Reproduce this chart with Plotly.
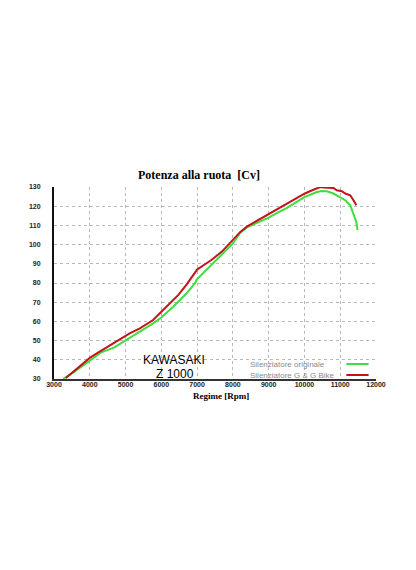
import plotly.graph_objects as go

# Data
rpm_orig = [3250, 3575, 4000, 4320, 4690, 5000, 5115, 5400, 5770, 6000, 6330, 6700, 6935,
            7000, 7400, 8000, 8200, 8400, 8520, 9000, 9240, 9500, 10000, 10155, 10345,
            10485, 10625, 10810, 11000, 11140, 11280, 11370, 11450, 11485]
cv_orig = [30, 33.8, 39.5, 43.9, 46.5, 50, 51.5, 54.6, 59, 62, 67.6, 74.5, 79.8,
           82, 89.3, 100.6, 106, 109, 110, 114, 116.5, 119, 124.7, 125.9, 127.4,
           127.9, 127.8, 126.6, 124.8, 123.1, 120.5, 116.2, 111.8, 107.5]

rpm_gg = [3330, 3575, 4000, 4230, 4510, 5000, 5115, 5400, 5770, 6000, 6235, 6470, 6700,
          6900, 7000, 7200, 7400, 7700, 8000, 8200, 8400, 8520, 9000, 9240, 9500, 9750,
          10000, 10150, 10345, 10440, 10530, 10810, 10905, 11045, 11140, 11280, 11370, 11450]
cv_gg = [30.5, 34.5, 41, 43.7, 47, 52.4, 53.8, 56.4, 60.7, 65, 69.4, 73.7, 79,
         84.5, 87, 89.5, 92, 96.5, 102.5, 106.5, 109.5, 110.8, 116, 118.2, 121, 124,
         126.5, 127.8, 129.2, 130, 129.7, 129.5, 128.3, 127.8, 126.6, 125.7, 123.1, 120.5]

x_ticks = [3000, 4000, 5000, 6000, 7000, 8000, 9000, 10000, 11000, 12000]
y_ticks = [30, 40, 50, 60, 70, 80, 90, 100, 110, 120, 130]

series_names = ["Silenziatore originale", "Silenziatore G & G Bike"]
GREEN = "#3dde3d"
RED = "#c3141c"

fig = go.Figure()
fig.add_trace(go.Scatter(x=rpm_orig, y=cv_orig, mode="lines", name=series_names[0],
                         line=dict(color=GREEN, width=2), showlegend=False))
fig.add_trace(go.Scatter(x=rpm_gg, y=cv_gg, mode="lines", name=series_names[1],
                         line=dict(color=RED, width=2), showlegend=False))

tickfont = dict(family="Liberation Sans, Arial", size=7, color="#222222", weight="bold")
fig.update_layout(
    width=416, height=570,
    margin=dict(l=54, r=40, t=187, b=191),
    paper_bgcolor="white", plot_bgcolor="white",
    xaxis=dict(range=[3000, 12000], tickvals=x_ticks, ticktext=[str(v) for v in x_ticks],
               tickfont=tickfont,
               showgrid=True, gridcolor="#b8b8b8", griddash="dot", gridwidth=1,
               showline=True, linecolor="#333333", linewidth=2, zeroline=False,
               ticks="", ticklabelstandoff=-2),
    yaxis=dict(range=[30, 130], tickvals=y_ticks, ticktext=[str(v) for v in y_ticks],
               tickfont=tickfont,
               showgrid=True, gridcolor="#b8b8b8", griddash="dot", gridwidth=1,
               showline=True, linecolor="#111111", linewidth=2, zeroline=False,
               ticks="", ticklabelstandoff=10),
    showlegend=False,
)

ann = []
ann.append(dict(text="Potenza alla ruota  [Cv]", xref="paper", yref="paper", x=0.45, y=1.0,
                yshift=12, showarrow=False, xanchor="center", yanchor="middle",
                font=dict(family="Liberation Serif, Times New Roman", size=12, color="black", weight="bold")))
ann.append(dict(text="Regime [Rpm]", xref="paper", yref="paper", x=0.52, y=0, yshift=-17,
                showarrow=False, xanchor="center", yanchor="middle",
                font=dict(family="Liberation Serif, Times New Roman", size=9, color="black", weight="bold")))
ann.append(dict(text="KAWASAKI", xref="paper", yref="paper", x=0.373, y=0, yshift=19,
                showarrow=False, xanchor="center", yanchor="middle",
                font=dict(family="Liberation Sans, Arial", size=12, color="black")))
ann.append(dict(text="Z 1000", xref="paper", yref="paper", x=0.375, y=0, yshift=5,
                showarrow=False, xanchor="center", yanchor="middle",
                font=dict(family="Liberation Sans, Arial", size=12, color="black")))
for i, (name, col) in enumerate(zip(series_names, [GREEN, RED])):
    yy = 15 - i * 11
    ann.append(dict(text=name, xref="paper", yref="paper", x=0.602, y=0, yshift=yy,
                    showarrow=False, xanchor="left", yanchor="middle",
                    font=dict(family="Liberation Sans, Arial", size=8, color="#8a8a8a")))
fig.update_layout(annotations=ann)

shapes = []
for i, col in enumerate([GREEN, RED]):
    yp = (15 - i * 11) / (570 - 187 - 191)
    shapes.append(dict(type="line", xref="paper", yref="paper", x0=0.908, x1=0.977,
                       y0=yp, y1=yp, line=dict(color=col, width=2)))
fig.update_layout(shapes=shapes)

fig.write_html("out.html")
